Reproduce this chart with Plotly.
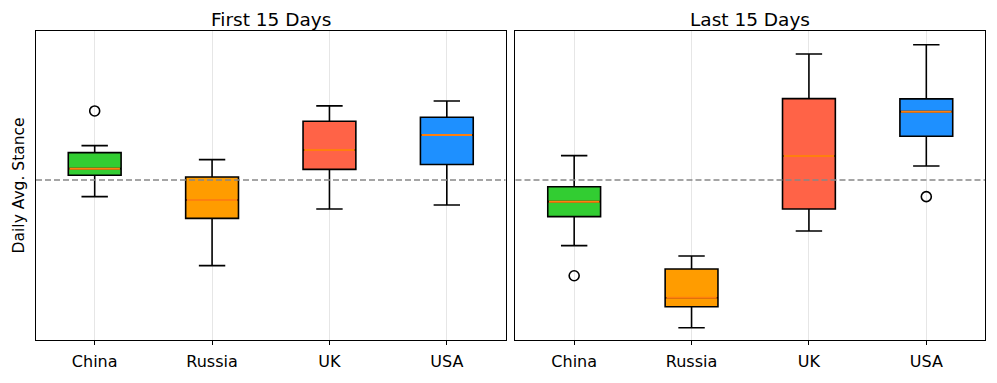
import plotly.graph_objects as go
from plotly.subplots import make_subplots

# Countries and box colours
countries = ["China", "Russia", "UK", "USA"]
box_colors = ["#32CD32", "#FF9C00", "#FF6347", "#1E90FF"]

# Box statistics, first 15 days (stance units, 0 = neutral)
first_q1 = [0.034, -0.274, 0.076, 0.111]
first_median = [0.081, -0.143, 0.214, 0.321]
first_q3 = [0.195, 0.021, 0.419, 0.448]
first_lower = [-0.119, -0.612, -0.207, -0.179]
first_upper = [0.245, 0.145, 0.529, 0.564]
first_outliers = [[0.493], [], [], []]

# Box statistics, last 15 days
last_q1 = [-0.262, -0.905, -0.207, 0.312]
last_median = [-0.155, -0.841, 0.171, 0.488]
last_q3 = [-0.048, -0.636, 0.581, 0.579]
last_lower = [-0.469, -1.055, -0.364, 0.100]
last_upper = [0.174, -0.543, 0.900, 0.966]
last_outliers = [[-0.684], [], [], [-0.119]]

reference_level = 0.0

FONT = "DejaVu Sans"

fig = make_subplots(rows=1, cols=2, shared_yaxes=True, horizontal_spacing=0.0105,
                    subplot_titles=("First 15 Days", "Last 15 Days"))

panels = [
    (first_q1, first_median, first_q3, first_lower, first_upper, first_outliers),
    (last_q1, last_median, last_q3, last_lower, last_upper, last_outliers),
]

for col, (q1, med, q3, lo, hi, outs) in enumerate(panels, start=1):
    for i, c in enumerate(countries):
        # the box with whiskers and caps
        fig.add_trace(go.Box(
            x=[c], q1=[q1[i]], median=[med[i]], q3=[q3[i]],
            lowerfence=[lo[i]], upperfence=[hi[i]],
            fillcolor=box_colors[i], line=dict(color="black", width=1.6),
            width=0.45, whiskerwidth=0.5, boxpoints=False,
            showlegend=False, hoverinfo="skip",
        ), row=1, col=col)
        # orange median line drawn as a flat box on top
        fig.add_trace(go.Box(
            x=[c], q1=[med[i]], median=[med[i]], q3=[med[i]],
            lowerfence=[med[i]], upperfence=[med[i]],
            fillcolor="rgba(0,0,0,0)", line=dict(color="#ff7f0e", width=2),
            width=0.43, whiskerwidth=0, boxpoints=False,
            showlegend=False, hoverinfo="skip",
        ), row=1, col=col)
        if outs[i]:
            fig.add_trace(go.Scatter(
                x=[c] * len(outs[i]), y=outs[i], mode="markers",
                marker=dict(symbol="circle-open", size=10, color="black",
                            line=dict(width=1.6, color="black")),
                showlegend=False, hoverinfo="skip",
            ), row=1, col=col)
    fig.add_hline(y=reference_level, line=dict(color="#888888", width=1.4, dash="6px,3px"),
                  row=1, col=col)

axis_style = dict(showline=True, mirror=True, linecolor="black", linewidth=1.2,
                  zeroline=False, automargin=False)
fig.update_xaxes(**axis_style, type="category", categoryorder="array",
                 categoryarray=countries, range=[-0.5, 3.5],
                 showgrid=True, gridcolor="#e6e6e6", gridwidth=1,
                 ticks="outside", ticklen=4, tickcolor="black", ticklabelstandoff=3,
                 tickfont=dict(family=FONT, size=16, color="black"))
fig.update_yaxes(**axis_style, range=[-1.143, 1.064], showgrid=False,
                 showticklabels=False, ticks="")

fig.update_annotations(font=dict(family=FONT, size=18.5, color="black"), yshift=-1)

# y axis label placed just left of the left panel
fig.add_annotation(text="Daily Avg. Stance", textangle=-90, xref="paper", yref="paper",
                   x=-0.018, y=0.5, xanchor="center", yanchor="middle", showarrow=False,
                   font=dict(family=FONT, size=15.5, color="black"))

fig.update_layout(
    width=997, height=383,
    margin=dict(l=36, r=12, t=31, b=43),
    boxmode="overlay",
    plot_bgcolor="white", paper_bgcolor="white",
    font=dict(family=FONT, color="black"),
)

# drop the browser's default 8px body margin so the figure sits at the page origin
fig.write_html("out.html", config={"displayModeBar": False},
               post_script="document.body.style.margin='0';")
